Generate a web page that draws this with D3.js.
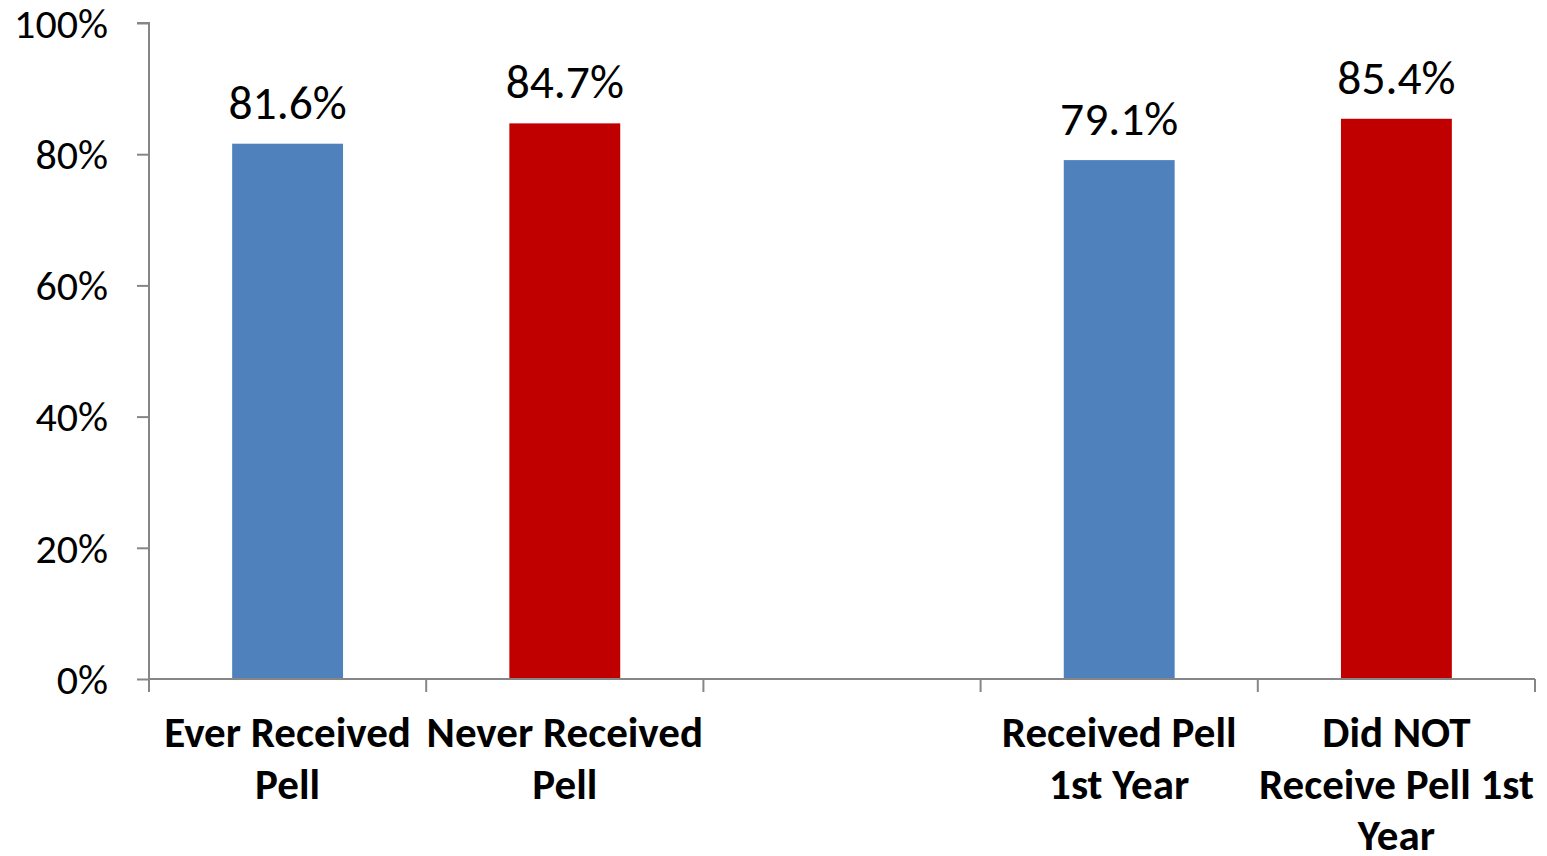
<!DOCTYPE html>
<html><head><meta charset="utf-8">
<script src="https://cdn.jsdelivr.net/npm/d3@7"></script>
<style>
html,body{margin:0;padding:0;background:#fff;}
svg{display:block;}
text{font-family:Carlito, Calibri, Lato, "Open Sans", sans-serif;fill:#000;}
</style></head>
<body>
<svg id="chart" width="1547" height="856"></svg>
<script>
const categories = ["Ever Received Pell", "Never Received Pell", "", "Received Pell 1st Year", "Did NOT Receive Pell 1st Year"];
const categoryLines = [["Ever Received", "Pell"], ["Never Received", "Pell"], [], ["Received Pell", "1st Year"], ["Did NOT", "Receive Pell 1st", "Year"]];
const values = [0.816, 0.847, null, 0.791, 0.854];
const barColors = ["#4F81BD", "#C00000", null, "#4F81BD", "#C00000"];
const yTicks = [0, 0.2, 0.4, 0.6, 0.8, 1.0];

(function () {
const svg = d3.select("#chart");
const mLeft = 149, mRight = 1535, mTop = 23, mBottom = 679;
const axisColor = "#868686";
const fontFam = "Carlito, Calibri, Lato, 'Open Sans', sans-serif";

const keys = categories.map((c, i) => i);
const x = d3.scaleBand().domain(keys).range([mLeft, mRight]).paddingInner(0.6).paddingOuter(0.3);
const y = d3.scaleLinear().domain([0, 1]).range([mBottom, mTop]);

// Y axis
const yAxis = d3.axisLeft(y).tickValues(yTicks).tickFormat(d3.format(".0%")).tickSize(12).tickPadding(29);
const gy = svg.append("g").attr("transform", `translate(${mLeft},0)`).call(yAxis);
gy.select(".domain").attr("stroke", axisColor).attr("stroke-width", 2).attr("d", `M-12,${mTop}H0V${mBottom}`);
gy.selectAll(".tick line").attr("stroke", axisColor).attr("stroke-width", 2);
gy.selectAll(".tick text").attr("font-size", 42).attr("font-family", fontFam).attr("fill", "#000").attr("dy", "0.34em");

// Bars
const data = keys.filter(i => values[i] != null);
svg.append("g").selectAll("rect").data(data).join("rect")
  .attr("x", i => x(i)).attr("width", x.bandwidth())
  .attr("y", i => y(values[i])).attr("height", i => y(0) - y(values[i]))
  .attr("fill", i => barColors[i]);

// Data labels
svg.append("g").selectAll("text").data(data).join("text")
  .attr("x", i => x(i) + x.bandwidth() / 2)
  .attr("y", i => y(values[i]) - 25)
  .attr("text-anchor", "middle").attr("font-size", 47.5)
  .text(i => d3.format(".1%")(values[i]));

// X axis line and ticks
const step = x.step();
const gx = svg.append("g");
gx.append("line").attr("x1", mLeft).attr("x2", mRight).attr("y1", mBottom).attr("y2", mBottom)
  .attr("stroke", axisColor).attr("stroke-width", 2);
gx.selectAll("line.tk").data(d3.range(categories.length + 1)).join("line").attr("class", "tk")
  .attr("x1", k => mLeft + k * step).attr("x2", k => mLeft + k * step)
  .attr("y1", mBottom).attr("y2", mBottom + 13)
  .attr("stroke", axisColor).attr("stroke-width", 2);

// Category labels
const lab = svg.append("g").selectAll("text").data(keys).join("text")
  .attr("text-anchor", "middle").attr("font-size", 43).attr("font-weight", "bold");
lab.selectAll("tspan").data(i => categoryLines[i].map(t => ({t, cx: x(i) + x.bandwidth() / 2}))).join("tspan")
  .attr("x", d => d.cx).attr("y", (d, j) => 747 + j * 51.5).text(d => d.t);
})();
</script>
</body></html>
